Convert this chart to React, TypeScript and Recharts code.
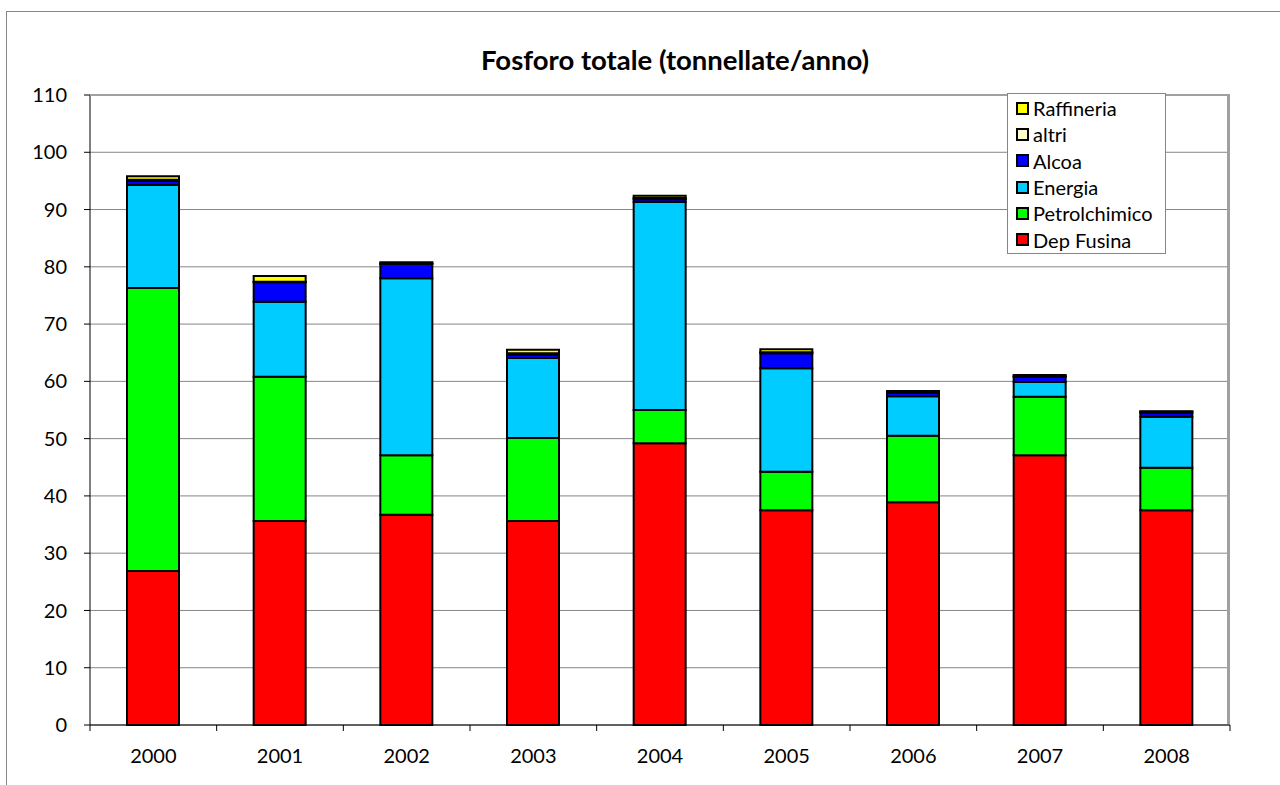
import { Bar, BarChart, CartesianGrid, XAxis, YAxis } from "recharts";

const years = ["2000", "2001", "2002", "2003", "2004", "2005", "2006", "2007", "2008"];
const depFusina = [26.9, 35.6, 36.7, 35.6, 49.2, 37.5, 38.9, 47.1, 37.5];
const petrolchimico = [49.4, 25.2, 10.4, 14.5, 5.8, 6.7, 11.6, 10.2, 7.4];
const energia = [18.0, 13.1, 30.9, 14.0, 36.3, 18.1, 6.9, 2.6, 8.9];
const alcoa = [0.7, 3.4, 2.5, 0.5, 0.5, 2.6, 0.6, 0.9, 0.7];
const altri = [0.2, 0.1, 0.1, 0.3, 0.2, 0.2, 0.2, 0.1, 0.2];
const raffineria = [0.6, 1.0, 0.2, 0.6, 0.4, 0.5, 0.1, 0.2, 0.1];
const yTicks = [0, 10, 20, 30, 40, 50, 60, 70, 80, 90, 100, 110];

const series = [
    {key: "depFusina", name: "Dep Fusina", color: "#FF0000", values: depFusina},
    {key: "petrolchimico", name: "Petrolchimico", color: "#00FF00", values: petrolchimico},
    {key: "energia", name: "Energia", color: "#00CCFF", values: energia},
    {key: "alcoa", name: "Alcoa", color: "#0000FF", values: alcoa},
    {key: "altri", name: "altri", color: "#FFFFCC", values: altri},
    {key: "raffineria", name: "Raffineria", color: "#FFFF00", values: raffineria},
];

const data = years.map((year, i) => {
    const row: Record<string, string | number> = {year};
    series.forEach(s => {
        row[s.key] = s.values[i];
    });
    return row;
});

const FONT = "Lato, 'Open Sans', sans-serif";
const PLOT_LEFT = 90;
const PLOT_TOP = 95;
const PLOT_W = 1140;
const PLOT_H = 630;
const BAND = PLOT_W / years.length;

const XTick = (props: any) => {
    const {x, y, payload, index} = props;
    return (
        <g>
            <line x1={x - BAND / 2} x2={x - BAND / 2} y1={y - 8} y2={y - 2} stroke="#000"/>
            {index === years.length - 1 &&
                <line x1={x + BAND / 2} x2={x + BAND / 2} y1={y - 8} y2={y - 2} stroke="#000"/>}
            <text x={x} y={y + 30} textAnchor="middle" fill="#000" fontSize={20} fontFamily={FONT}>
                {payload.value}
            </text>
        </g>
    );
};

// legend drawn by hand so it doesn't eat into the plot area
const LegendBox = () => (
    <div style={{
        position: "absolute", left: 1007, top: 93, width: 159, height: 161,
        border: "1px solid #868686", background: "#fff",
        fontFamily: FONT, fontSize: 20, boxSizing: "border-box", paddingTop: 1
    }}>
        {[...series].reverse().map(s => (
            <div key={s.key} style={{display: "flex", alignItems: "center", height: 26.3}}>
                <span style={{
                    display: "inline-block", width: 9, height: 9, marginLeft: 8, marginRight: 4,
                    background: s.color, border: "2px solid #000"
                }}/>
                <span>{s.name}</span>
            </div>
        ))}
    </div>
);

const App = () => {
    return (
        <div style={{position: "absolute", left: 0, top: 0, width: 1280, height: 785, overflow: "hidden", background: "#fff"}}>
            <div style={{
                position: "absolute", left: 6, top: 11, width: 1400, height: 900,
                border: "1px solid #868686"
            }}/>
            <div style={{
                position: "absolute", left: 0, width: 1350, top: 44, textAlign: "center",
                fontFamily: FONT, fontWeight: "bold", fontSize: 27.5, lineHeight: "32px"
            }}>
                Fosforo totale (tonnellate/anno)
            </div>
            <div style={{position: "absolute", left: 0, top: 0}}>
                <BarChart width={1280} height={785} data={data} barSize={52}
                          margin={{top: PLOT_TOP, right: 1280 - PLOT_LEFT - PLOT_W, left: PLOT_LEFT - 60, bottom: 785 - PLOT_TOP - PLOT_H - 30}}>
                    <CartesianGrid vertical={false} stroke="#868686" strokeWidth={1}/>
                    <XAxis dataKey="year" height={30} axisLine={{stroke: "#000"}} tickLine={false}
                           tick={<XTick/>} interval={0}/>
                    <YAxis width={60} domain={[0, 110]} ticks={yTicks} interval={0}
                           axisLine={{stroke: "#000"}} tickLine={{stroke: "#000"}} tickSize={6} tickMargin={17}
                           tick={{fill: "#000", fontSize: 20, fontFamily: FONT}}/>
                    {series.map(s => (
                        <Bar key={s.key} dataKey={s.key} name={s.name} stackId="a" fill={s.color}
                             stroke="#000" strokeWidth={2} isAnimationActive={false}/>
                    ))}
                </BarChart>
            </div>
            <div style={{
                position: "absolute", left: PLOT_LEFT, top: PLOT_TOP - 1, width: PLOT_W, height: PLOT_H,
                borderTop: "2px solid #A0A0A0", borderRight: "3px solid #A0A0A0", pointerEvents: "none",
                boxSizing: "border-box"
            }}/>
            <LegendBox/>
        </div>
    );
};

export default App;
